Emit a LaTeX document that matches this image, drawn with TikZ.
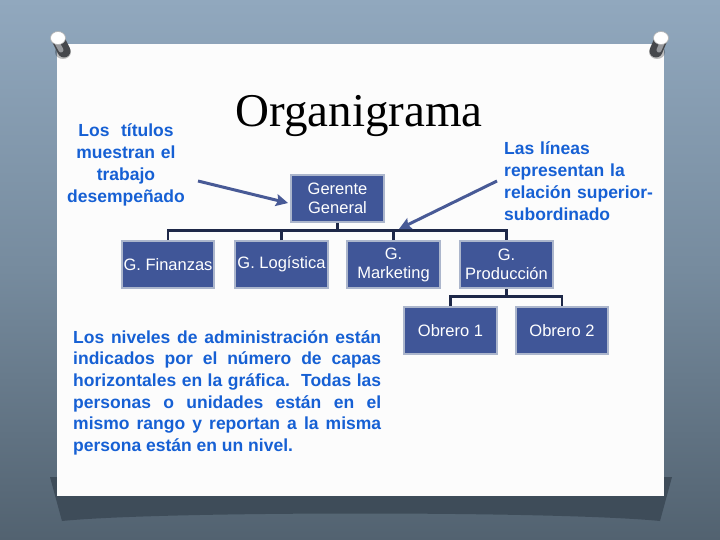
\documentclass[tikz,border=0pt]{standalone}
\usepackage{fontspec}
\setmainfont{Liberation Serif}
\newfontfamily\arialf{Liberation Sans}
\usetikzlibrary{arrows.meta}
\definecolor{bgtop}{RGB}{145,168,190}
\definecolor{bgmid}{RGB}{118,139,158}
\definecolor{bgbot}{RGB}{82,98,112}
\definecolor{shadowc}{RGB}{62,76,89}
\definecolor{boxfill}{RGB}{64,86,152}
\definecolor{boxline}{RGB}{172,182,204}
\definecolor{linec}{RGB}{30,40,72}
\definecolor{arrowc}{RGB}{72,90,150}
\definecolor{bluetext}{RGB}{22,96,212}
\definecolor{pindark}{RGB}{70,72,76}
\definecolor{pinmid}{RGB}{150,152,156}
\begin{document}
\begin{tikzpicture}[x=1pt,y=-1pt,
 orgbox/.style={draw=boxline, line width=2pt, fill=boxfill, text=white, minimum width=93pt, minimum height=47pt, inner sep=0pt, align=center, font=\arialf\fontsize{16.5}{19}\selectfont},
 conn/.style={draw=linec, line width=2.2pt},
 callout/.style={draw=arrowc, line width=3pt, -{Stealth[length=12pt,width=12pt,inset=2pt]}},
 note/.style={text=bluetext, font=\arialf\bfseries\fontsize{17.5}{21.7}\selectfont, inner sep=0pt}]
\useasboundingbox (0,0) rectangle (720,540);
% background
\shade[top color=bgtop, bottom color=bgbot, middle color=bgmid] (0,0) rectangle (720,540);
% paper shadow
\fill[shadowc] (50,477) -- (672,477) -- (660,521) .. controls (560,511) and (160,511) .. (62,521) -- cycle;
% paper
\fill[white!98!gray] (57,44) rectangle (664,496);
% pins
\fill[black,opacity=0.25] (63,52) ellipse (8 and 7);
\draw[line width=13pt, line cap=round, pindark] (58,39) -- (64,51);
\draw[line width=5pt, line cap=round, pinmid] (56,41) -- (61,50);
\fill[white] (58,38) ellipse (7.5 and 6.5);
\draw[gray!60, line width=0.6pt] (58,38) ellipse (7.5 and 6.5);
\fill[black,opacity=0.25] (657,52) ellipse (8 and 7);
\draw[line width=13pt, line cap=round, pindark] (661,39) -- (656,51);
\draw[line width=5pt, line cap=round, pinmid] (663,41) -- (659,50);
\fill[white] (661,38) ellipse (7.5 and 6.5);
\draw[gray!60, line width=0.6pt] (661,38) ellipse (7.5 and 6.5);
% title
\node[font=\fontsize{47}{47}\selectfont, anchor=base, inner sep=0pt] (title) at (359,127) {Organigrama};
% notes
\node[note, anchor=base, text width=200pt, align=center] (lnote) at (126,137) {Los~ títulos\\muestran el\\trabajo\\desempeñado};
\node[note, anchor=base west, text width=170pt, align=left] (rnote) at (504,155) {Las líneas\\representan la\\relación superior-\\subordinado};
\node[note, anchor=base west, text width=308pt, align=justify] (para) at (73,343) {Los niveles de administración están\linebreak indicados por el número de capas\linebreak horizontales en la gráfica.\ \ Todas las\linebreak personas o unidades están en el\linebreak mismo rango y reportan a la misma\linebreak persona están en un nivel.};
% boxes
\node[orgbox] (ger) at (337.5,198.5) {Gerente\\General};
\node[orgbox, minimum width=92pt] (fin) at (168,264.5) {G. Finanzas};
\node[orgbox] (log) at (281.5,264.5) {G. Logística};
\node[orgbox] (mkt) at (393.5,264.5) {G.\\Marketing};
\node[orgbox] (prod) at (506.5,264.5) {G.\\Producción};
\node[orgbox] (ob1) at (450.5,330.5) {Obrero 1};
\node[orgbox, minimum width=92pt] (ob2) at (562,330.5) {Obrero 2};
% connectors
\coordinate (bus1) at (337.5,230.5);
\draw[conn] (ger.south) -- (ger.south |- bus1);
\draw[conn] (fin.north) -- (fin.north |- bus1) -- (prod.north |- bus1) -- (prod.north);
\draw[conn] (log.north) -- (log.north |- bus1);
\draw[conn] (mkt.north) -- (mkt.north |- bus1);
\coordinate (bus2) at (506.5,296.5);
\draw[conn] (prod.south) -- (prod.south |- bus2);
\draw[conn] (ob1.north) -- (ob1.north |- bus2) -- (ob2.north |- bus2) -- (ob2.north);
% callout arrows
\coordinate (a1s) at (198,181);
\coordinate (a1e) at (288,203);
\draw[callout] (a1s) -- (a1e);
\coordinate (a2s) at (497,181);
\coordinate (a2e) at (399,229);
\draw[callout] (a2s) -- (a2e);
\end{tikzpicture}
\end{document}
